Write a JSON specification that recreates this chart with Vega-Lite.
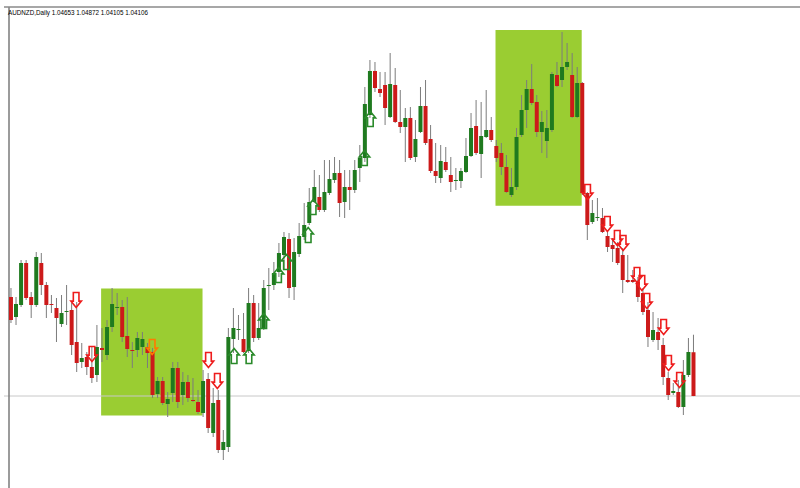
{
  "$schema": "https://vega.github.io/schema/vega-lite/v6.json",
  "autosize": "none",
  "width": 796,
  "height": 481,
  "padding": {"left": 4, "top": 7, "right": 0, "bottom": 0},
  "background": "#ffffff",
  "view": {"stroke": null, "fill": "#ffffff"},
  "title": {
    "text": "AUDNZD,Daily  1.04653 1.04872 1.04105 1.04106",
    "anchor": "start",
    "frame": "group",
    "offset": -15,
    "dx": 4,
    "baseline": "alphabetic",
    "font": "Liberation Sans",
    "fontSize": 6.3,
    "fontWeight": "normal",
    "color": "#000000"
  },
  "datasets": {
    "lines": [{"bid": 1.04106, "left": -0.39, "top": 1.089685}],
    "boxes": [
      {"x0": 17.83, "x1": 37.89, "top": 1.0545, "bottom": 1.03862},
      {"x0": 95.84, "x1": 112.89, "top": 1.08681, "bottom": 1.06485}
    ],
    "candles": [
      {"i":0,"o":1.053435,"h":1.05456,"l":1.050185,"c":1.05056,"d":"down"},
      {"i":1,"o":1.050935,"h":1.053435,"l":1.049935,"c":1.05256,"d":"up"},
      {"i":2,"o":1.052435,"h":1.05806,"l":1.052185,"c":1.057685,"d":"up"},
      {"i":3,"o":1.057685,"h":1.05806,"l":1.05306,"c":1.05331,"d":"down"},
      {"i":4,"o":1.053435,"h":1.05406,"l":1.05081,"c":1.052435,"d":"down"},
      {"i":5,"o":1.052435,"h":1.05906,"l":1.052185,"c":1.058435,"d":"up"},
      {"i":6,"o":1.057685,"h":1.058935,"l":1.053685,"c":1.054935,"d":"down"},
      {"i":7,"o":1.054935,"h":1.05531,"l":1.05081,"c":1.052435,"d":"down"},
      {"i":8,"o":1.05256,"h":1.053685,"l":1.051435,"c":1.052435,"d":"down"},
      {"i":9,"o":1.05206,"h":1.05331,"l":1.04781,"c":1.05081,"d":"down"},
      {"i":10,"o":1.05006,"h":1.053685,"l":1.049685,"c":1.051435,"d":"up"},
      {"i":11,"o":1.05156,"h":1.054935,"l":1.049935,"c":1.051685,"d":"up"},
      {"i":12,"o":1.05181,"h":1.052685,"l":1.046185,"c":1.047435,"d":"down"},
      {"i":13,"o":1.04781,"h":1.05281,"l":1.04406,"c":1.045185,"d":"down"},
      {"i":14,"o":1.04531,"h":1.047685,"l":1.04456,"c":1.04581,"d":"up"},
      {"i":15,"o":1.045935,"h":1.04656,"l":1.043685,"c":1.044685,"d":"down"},
      {"i":16,"o":1.044685,"h":1.047185,"l":1.042685,"c":1.04331,"d":"down"},
      {"i":17,"o":1.043685,"h":1.049935,"l":1.04281,"c":1.047185,"d":"up"},
      {"i":18,"o":1.04706,"h":1.04956,"l":1.04531,"c":1.04681,"d":"down"},
      {"i":19,"o":1.046185,"h":1.05056,"l":1.04556,"c":1.049685,"d":"up"},
      {"i":20,"o":1.049685,"h":1.05456,"l":1.04906,"c":1.05256,"d":"up"},
      {"i":21,"o":1.05206,"h":1.053935,"l":1.051185,"c":1.052185,"d":"up"},
      {"i":22,"o":1.052185,"h":1.05306,"l":1.04781,"c":1.048435,"d":"down"},
      {"i":23,"o":1.04856,"h":1.053435,"l":1.045935,"c":1.046935,"d":"down"},
      {"i":24,"o":1.04681,"h":1.04781,"l":1.04456,"c":1.046685,"d":"down"},
      {"i":25,"o":1.04681,"h":1.04906,"l":1.045935,"c":1.04831,"d":"up"},
      {"i":26,"o":1.047185,"h":1.04906,"l":1.046185,"c":1.048185,"d":"up"},
      {"i":27,"o":1.047185,"h":1.047685,"l":1.04456,"c":1.046435,"d":"down"},
      {"i":28,"o":1.04656,"h":1.04706,"l":1.04081,"c":1.041185,"d":"down"},
      {"i":29,"o":1.04131,"h":1.043435,"l":1.04081,"c":1.042935,"d":"up"},
      {"i":30,"o":1.042935,"h":1.043435,"l":1.039935,"c":1.040185,"d":"down"},
      {"i":31,"o":1.04006,"h":1.04156,"l":1.038435,"c":1.040685,"d":"up"},
      {"i":32,"o":1.041435,"h":1.04531,"l":1.04031,"c":1.04456,"d":"up"},
      {"i":33,"o":1.04456,"h":1.04531,"l":1.03956,"c":1.04031,"d":"down"},
      {"i":34,"o":1.041185,"h":1.04406,"l":1.039935,"c":1.04281,"d":"up"},
      {"i":35,"o":1.04281,"h":1.043685,"l":1.04031,"c":1.04081,"d":"down"},
      {"i":36,"o":1.04056,"h":1.04331,"l":1.04031,"c":1.040435,"d":"down"},
      {"i":37,"o":1.04031,"h":1.04181,"l":1.03881,"c":1.03906,"d":"down"},
      {"i":38,"o":1.038935,"h":1.04431,"l":1.038435,"c":1.042935,"d":"up"},
      {"i":39,"o":1.043185,"h":1.043935,"l":1.036435,"c":1.03706,"d":"down"},
      {"i":40,"o":1.036435,"h":1.04206,"l":1.035935,"c":1.040185,"d":"up"},
      {"i":41,"o":1.04056,"h":1.04181,"l":1.033935,"c":1.03431,"d":"down"},
      {"i":42,"o":1.03431,"h":1.03681,"l":1.03306,"c":1.03531,"d":"up"},
      {"i":43,"o":1.034685,"h":1.04956,"l":1.03406,"c":1.048435,"d":"up"},
      {"i":44,"o":1.048185,"h":1.05206,"l":1.046435,"c":1.04956,"d":"up"},
      {"i":45,"o":1.04931,"h":1.051185,"l":1.04806,"c":1.049435,"d":"up"},
      {"i":46,"o":1.048185,"h":1.051435,"l":1.046435,"c":1.04656,"d":"down"},
      {"i":47,"o":1.046685,"h":1.05456,"l":1.046435,"c":1.052685,"d":"up"},
      {"i":48,"o":1.052685,"h":1.053685,"l":1.04781,"c":1.04831,"d":"down"},
      {"i":49,"o":1.04831,"h":1.052685,"l":1.04806,"c":1.04956,"d":"up"},
      {"i":50,"o":1.04956,"h":1.05556,"l":1.04931,"c":1.05456,"d":"up"},
      {"i":51,"o":1.05481,"h":1.05706,"l":1.05181,"c":1.054935,"d":"up"},
      {"i":52,"o":1.054935,"h":1.05781,"l":1.05431,"c":1.056435,"d":"up"},
      {"i":53,"o":1.05656,"h":1.060185,"l":1.055935,"c":1.058935,"d":"up"},
      {"i":54,"o":1.058685,"h":1.06156,"l":1.05681,"c":1.060935,"d":"up"},
      {"i":55,"o":1.060685,"h":1.061435,"l":1.05331,"c":1.05456,"d":"down"},
      {"i":56,"o":1.054685,"h":1.06081,"l":1.05306,"c":1.05906,"d":"up"},
      {"i":57,"o":1.05881,"h":1.062685,"l":1.058435,"c":1.06106,"d":"up"},
      {"i":58,"o":1.060935,"h":1.065185,"l":1.06056,"c":1.062435,"d":"up"},
      {"i":59,"o":1.062685,"h":1.06706,"l":1.062435,"c":1.06531,"d":"up"},
      {"i":60,"o":1.06531,"h":1.06931,"l":1.065185,"c":1.067185,"d":"up"},
      {"i":61,"o":1.065935,"h":1.068685,"l":1.06406,"c":1.06431,"d":"down"},
      {"i":62,"o":1.06431,"h":1.07056,"l":1.06406,"c":1.06656,"d":"up"},
      {"i":63,"o":1.066435,"h":1.07056,"l":1.066185,"c":1.068185,"d":"up"},
      {"i":64,"o":1.06806,"h":1.070935,"l":1.067685,"c":1.068935,"d":"up"},
      {"i":65,"o":1.068935,"h":1.07056,"l":1.063435,"c":1.065185,"d":"down"},
      {"i":66,"o":1.06531,"h":1.06931,"l":1.06331,"c":1.067185,"d":"up"},
      {"i":67,"o":1.067185,"h":1.06931,"l":1.06431,"c":1.06681,"d":"down"},
      {"i":68,"o":1.06681,"h":1.07056,"l":1.066435,"c":1.06931,"d":"up"},
      {"i":69,"o":1.06956,"h":1.072435,"l":1.06781,"c":1.07081,"d":"up"},
      {"i":70,"o":1.07081,"h":1.079685,"l":1.07031,"c":1.07756,"d":"up"},
      {"i":71,"o":1.076185,"h":1.08306,"l":1.07581,"c":1.081685,"d":"up"},
      {"i":72,"o":1.081685,"h":1.08281,"l":1.07906,"c":1.07956,"d":"down"},
      {"i":73,"o":1.079435,"h":1.08156,"l":1.078435,"c":1.078935,"d":"down"},
      {"i":74,"o":1.079935,"h":1.08156,"l":1.074935,"c":1.07706,"d":"down"},
      {"i":75,"o":1.075935,"h":1.083935,"l":1.07581,"c":1.08006,"d":"up"},
      {"i":76,"o":1.079935,"h":1.08206,"l":1.075185,"c":1.07531,"d":"down"},
      {"i":77,"o":1.07531,"h":1.07931,"l":1.073935,"c":1.074685,"d":"down"},
      {"i":78,"o":1.074685,"h":1.07706,"l":1.07031,"c":1.07581,"d":"up"},
      {"i":79,"o":1.07581,"h":1.077185,"l":1.07056,"c":1.07081,"d":"down"},
      {"i":80,"o":1.070935,"h":1.07556,"l":1.07031,"c":1.073185,"d":"up"},
      {"i":81,"o":1.07406,"h":1.079685,"l":1.073935,"c":1.07731,"d":"up"},
      {"i":82,"o":1.07731,"h":1.08056,"l":1.072435,"c":1.072685,"d":"down"},
      {"i":83,"o":1.073185,"h":1.074935,"l":1.068935,"c":1.069185,"d":"down"},
      {"i":84,"o":1.069185,"h":1.072685,"l":1.067685,"c":1.06856,"d":"down"},
      {"i":85,"o":1.06831,"h":1.072435,"l":1.067685,"c":1.070435,"d":"up"},
      {"i":86,"o":1.07031,"h":1.072185,"l":1.06906,"c":1.06931,"d":"down"},
      {"i":87,"o":1.068685,"h":1.070935,"l":1.06656,"c":1.06781,"d":"down"},
      {"i":88,"o":1.067935,"h":1.06956,"l":1.06681,"c":1.06806,"d":"up"},
      {"i":89,"o":1.067935,"h":1.06956,"l":1.06706,"c":1.069185,"d":"up"},
      {"i":90,"o":1.06906,"h":1.07331,"l":1.068935,"c":1.07106,"d":"up"},
      {"i":91,"o":1.07106,"h":1.076435,"l":1.070935,"c":1.07456,"d":"up"},
      {"i":92,"o":1.07481,"h":1.07806,"l":1.071185,"c":1.071435,"d":"down"},
      {"i":93,"o":1.07131,"h":1.07781,"l":1.06831,"c":1.07356,"d":"up"},
      {"i":94,"o":1.073435,"h":1.07931,"l":1.07331,"c":1.07431,"d":"up"},
      {"i":95,"o":1.07431,"h":1.075935,"l":1.07281,"c":1.07306,"d":"down"},
      {"i":96,"o":1.07231,"h":1.07306,"l":1.07031,"c":1.07081,"d":"down"},
      {"i":97,"o":1.071435,"h":1.072685,"l":1.068685,"c":1.069685,"d":"down"},
      {"i":98,"o":1.069685,"h":1.071185,"l":1.066435,"c":1.06656,"d":"down"},
      {"i":99,"o":1.066185,"h":1.06956,"l":1.065935,"c":1.067185,"d":"up"},
      {"i":100,"o":1.067185,"h":1.07456,"l":1.06681,"c":1.073435,"d":"up"},
      {"i":101,"o":1.073685,"h":1.078685,"l":1.073435,"c":1.07681,"d":"up"},
      {"i":102,"o":1.07681,"h":1.08056,"l":1.07456,"c":1.079435,"d":"up"},
      {"i":103,"o":1.079435,"h":1.08256,"l":1.077435,"c":1.077685,"d":"down"},
      {"i":104,"o":1.07781,"h":1.078685,"l":1.073435,"c":1.07406,"d":"down"},
      {"i":105,"o":1.07406,"h":1.076685,"l":1.071435,"c":1.07531,"d":"up"},
      {"i":106,"o":1.072935,"h":1.07681,"l":1.07081,"c":1.07456,"d":"up"},
      {"i":107,"o":1.07431,"h":1.08156,"l":1.07406,"c":1.08131,"d":"up"},
      {"i":108,"o":1.081185,"h":1.08281,"l":1.079685,"c":1.07981,"d":"down"},
      {"i":109,"o":1.08056,"h":1.08656,"l":1.079685,"c":1.082185,"d":"up"},
      {"i":110,"o":1.082185,"h":1.085185,"l":1.08181,"c":1.08281,"d":"up"},
      {"i":111,"o":1.081185,"h":1.083935,"l":1.07581,"c":1.075935,"d":"down"},
      {"i":112,"o":1.075935,"h":1.082185,"l":1.07581,"c":1.080185,"d":"up"},
      {"i":113,"o":1.080185,"h":1.08031,"l":1.066185,"c":1.066435,"d":"down"},
      {"i":114,"o":1.066435,"h":1.06656,"l":1.06056,"c":1.062435,"d":"down"},
      {"i":115,"o":1.06281,"h":1.06556,"l":1.06256,"c":1.063935,"d":"up"},
      {"i":116,"o":1.06331,"h":1.06581,"l":1.062935,"c":1.063435,"d":"up"},
      {"i":117,"o":1.06331,"h":1.06456,"l":1.061435,"c":1.06156,"d":"down"},
      {"i":118,"o":1.06106,"h":1.06156,"l":1.05906,"c":1.059685,"d":"down"},
      {"i":119,"o":1.059935,"h":1.06081,"l":1.05781,"c":1.059435,"d":"down"},
      {"i":120,"o":1.05956,"h":1.06031,"l":1.057435,"c":1.057685,"d":"down"},
      {"i":121,"o":1.058685,"h":1.05956,"l":1.053935,"c":1.05556,"d":"down"},
      {"i":122,"o":1.05556,"h":1.058685,"l":1.055185,"c":1.05531,"d":"down"},
      {"i":123,"o":1.05556,"h":1.05681,"l":1.055185,"c":1.05531,"d":"down"},
      {"i":124,"o":1.05531,"h":1.055935,"l":1.05281,"c":1.053435,"d":"down"},
      {"i":125,"o":1.053935,"h":1.05456,"l":1.051185,"c":1.05156,"d":"down"},
      {"i":126,"o":1.05181,"h":1.05281,"l":1.047185,"c":1.048435,"d":"down"},
      {"i":127,"o":1.04806,"h":1.05156,"l":1.04781,"c":1.04931,"d":"up"},
      {"i":128,"o":1.04906,"h":1.05081,"l":1.04681,"c":1.04806,"d":"down"},
      {"i":129,"o":1.047435,"h":1.04831,"l":1.042435,"c":1.043435,"d":"down"},
      {"i":130,"o":1.04331,"h":1.04406,"l":1.04056,"c":1.041185,"d":"down"},
      {"i":131,"o":1.041435,"h":1.042685,"l":1.041185,"c":1.041685,"d":"up"},
      {"i":132,"o":1.04156,"h":1.04306,"l":1.03956,"c":1.039685,"d":"down"},
      {"i":133,"o":1.039685,"h":1.04556,"l":1.038685,"c":1.043685,"d":"up"},
      {"i":134,"o":1.043685,"h":1.04831,"l":1.043435,"c":1.04656,"d":"up"},
      {"i":135,"o":1.04653,"h":1.04872,"l":1.04105,"c":1.04106,"d":"down"}
    ],
    "arrows": [
      {"i":12.89,"p":1.05306,"kind":"sell"},
      {"i":16.02,"p":1.04631,"kind":"sell"},
      {"i":27.93,"p":1.047185,"kind":"sell2"},
      {"i":39.06,"p":1.04556,"kind":"sell"},
      {"i":40.82,"p":1.042935,"kind":"sell"},
      {"i":114.06,"p":1.06656,"kind":"sell"},
      {"i":117.97,"p":1.06256,"kind":"sell"},
      {"i":119.92,"p":1.06081,"kind":"sell"},
      {"i":121.09,"p":1.060185,"kind":"sell"},
      {"i":123.83,"p":1.056185,"kind":"sell"},
      {"i":124.8,"p":1.055185,"kind":"sell"},
      {"i":125.78,"p":1.052935,"kind":"sell"},
      {"i":129.1,"p":1.049685,"kind":"sell"},
      {"i":130.08,"p":1.045185,"kind":"sell"},
      {"i":132.23,"p":1.04306,"kind":"sell"},
      {"i":44.14,"p":1.04606,"kind":"buy"},
      {"i":47.07,"p":1.04606,"kind":"buy"},
      {"i":50.0,"p":1.050435,"kind":"buy"},
      {"i":52.93,"p":1.056185,"kind":"buy"},
      {"i":54.49,"p":1.05781,"kind":"buy"},
      {"i":58.79,"p":1.061185,"kind":"buy"},
      {"i":59.77,"p":1.064685,"kind":"buy"},
      {"i":69.92,"p":1.07081,"kind":"buy"},
      {"i":71.09,"p":1.075685,"kind":"buy"}
    ]
  },
  "layer": [
    {
      "data": {"name": "boxes"},
      "mark": {"type": "rect", "color": "#9acd32"},
      "encoding": {
        "x": {"field": "x0", "type": "quantitative", "scale": {"domain": [-0.39, 155.08], "nice": false, "zero": false}, "axis": null},
        "x2": {"field": "x1"},
        "y": {"field": "top", "type": "quantitative", "scale": {"domain": [1.02956, 1.089685], "nice": false, "zero": false}, "axis": null},
        "y2": {"field": "bottom"}
      }
    },
    {
      "data": {"name": "lines"},
      "mark": {"type": "rule", "color": "#c8c8c8", "strokeWidth": 1},
      "encoding": {
        "y": {"field": "bid", "type": "quantitative"}
      }
    },
    {
      "data": {"name": "lines"},
      "mark": {"type": "rule", "color": "#7a7a7a", "strokeWidth": 1.5},
      "encoding": {
        "x": {"field": "left", "type": "quantitative"}
      }
    },
    {
      "data": {"name": "lines"},
      "mark": {"type": "rule", "color": "#8a8a8a", "strokeWidth": 1.5},
      "encoding": {
        "y": {"field": "top", "type": "quantitative"}
      }
    },
    {
      "data": {"name": "candles"},
      "mark": {"type": "rule", "color": "#7c7c7c", "strokeWidth": 1},
      "encoding": {
        "x": {"field": "i", "type": "quantitative"},
        "y": {"field": "l", "type": "quantitative"},
        "y2": {"field": "h"}
      }
    },
    {
      "data": {"name": "candles"},
      "mark": {"type": "bar", "size": 4},
      "encoding": {
        "x": {"field": "i", "type": "quantitative"},
        "y": {"field": "o", "type": "quantitative"},
        "y2": {"field": "c"},
        "color": {"field": "d", "type": "nominal", "scale": {"domain": ["up", "down"], "range": ["#1f7a1f", "#cc1a1a"]}, "legend": null}
      }
    },
    {
      "data": {"name": "arrows"},
      "transform": [{"filter": "datum.kind !== 'buy'"}],
      "mark": {"type": "point", "filled": false, "strokeWidth": 1.6, "size": 225, "opacity": 1,
               "shape": "M-0.375,-1L0.375,-1L0.375,0.15L0.7,0.15L0,1L-0.7,0.15L-0.375,0.15Z"},
      "encoding": {
        "x": {"field": "i", "type": "quantitative"},
        "y": {"field": "p", "type": "quantitative"},
        "stroke": {"field": "kind", "type": "nominal", "scale": {"domain": ["sell", "sell2", "buy"], "range": ["#ee1c1c", "#ff7a00", "#2a8a2a"]}, "legend": null}
      }
    },
    {
      "data": {"name": "arrows"},
      "transform": [{"filter": "datum.kind === 'buy'"}],
      "mark": {"type": "point", "filled": false, "strokeWidth": 1.6, "size": 225, "opacity": 1,
               "shape": "M-0.375,1L0.375,1L0.375,-0.15L0.7,-0.15L0,-1L-0.7,-0.15L-0.375,-0.15Z"},
      "encoding": {
        "x": {"field": "i", "type": "quantitative"},
        "y": {"field": "p", "type": "quantitative"},
        "stroke": {"field": "kind", "type": "nominal", "scale": {"domain": ["sell", "sell2", "buy"], "range": ["#ee1c1c", "#ff7a00", "#2a8a2a"]}, "legend": null}
      }
    }
  ]
}
